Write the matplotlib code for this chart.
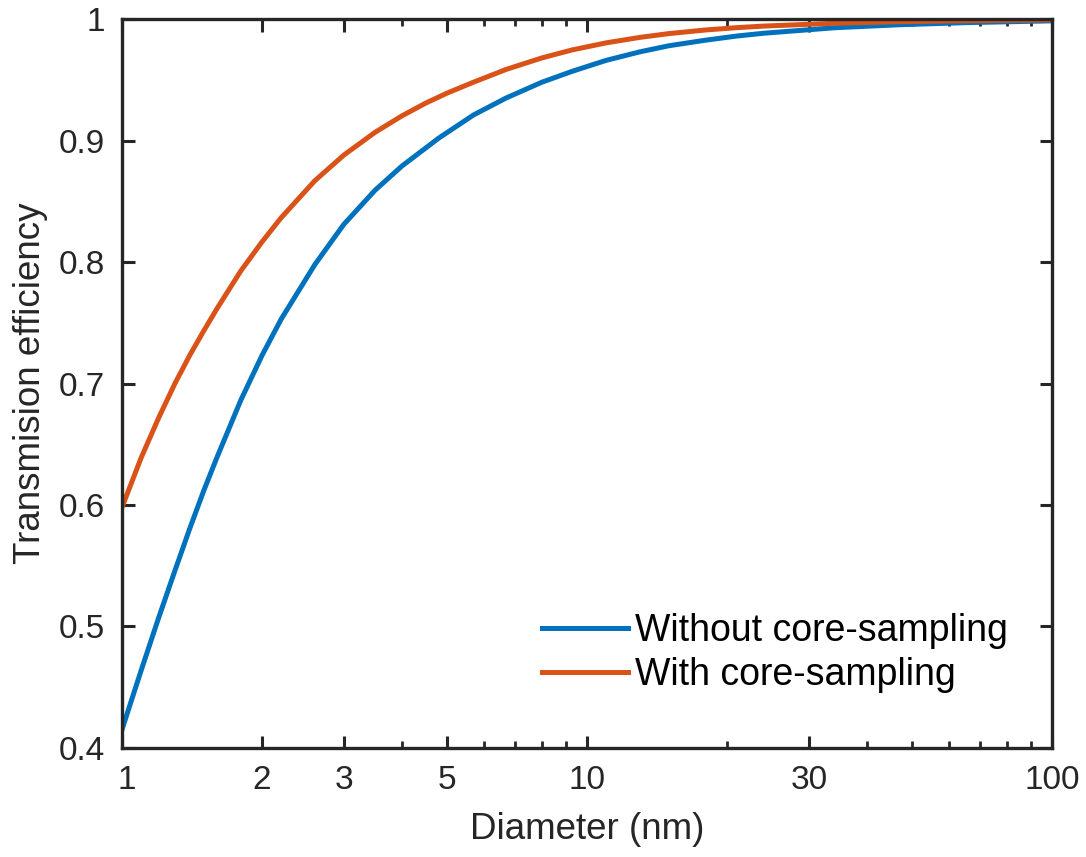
import matplotlib.pyplot as plt
import matplotlib.transforms as mtransforms
from matplotlib.ticker import FixedLocator, NullFormatter

plt.rcParams['font.family'] = ['Liberation Sans', 'DejaVu Sans']

# diameters (nm) and read-off transmission values
d_without = [1.0, 1.1, 1.2, 1.3, 1.4, 1.5, 1.6, 1.8, 2.0, 2.2, 2.6, 3.0, 3.5, 4.0, 4.8,
             5.7, 6.7, 8.0, 9.3, 11, 13, 15, 18, 21, 24, 34, 47, 65, 100]
eff_without = [0.415, 0.464, 0.5075, 0.546, 0.581, 0.612, 0.639, 0.686, 0.723, 0.753,
               0.798, 0.831, 0.859, 0.879, 0.902, 0.921, 0.935, 0.948, 0.957, 0.966,
               0.973, 0.978, 0.9826, 0.986, 0.9883, 0.9928, 0.9953, 0.997, 0.9985]

d_with = [1.0, 1.1, 1.2, 1.3, 1.4, 1.5, 1.6, 1.8, 2.0, 2.2, 2.6, 3.0, 3.5, 4.0, 4.5,
          5.0, 5.7, 6.7, 8.0, 9.3, 11, 13, 15, 18, 21, 24, 34, 47, 65, 100]
eff_with = [0.598, 0.639, 0.672, 0.700, 0.7235, 0.7435, 0.7615, 0.7925, 0.8165, 0.8365,
            0.867, 0.888, 0.9067, 0.9203, 0.9308, 0.939, 0.948, 0.9585, 0.968, 0.9746,
            0.9804, 0.9849, 0.988, 0.991, 0.9929, 0.9942, 0.9965, 0.9978, 0.9986, 0.9993]

labels = ['Without core-sampling', 'With core-sampling']
xticks = [1, 2, 3, 5, 10, 30, 100]
yticks = [0.4, 0.5, 0.6, 0.7, 0.8, 0.9, 1.0]
ytick_labels = ['0.4', '0.5', '0.6', '0.7', '0.8', '0.9', '1']

fig = plt.figure(figsize=(10.86, 8.57), dpi=100)
ax = fig.add_axes([0.1123, 0.1272, 0.8564, 0.8506])

ax.plot(d_without, eff_without, color='#0072BD', lw=3.6, label=labels[0])
ax.plot(d_with, eff_with, color='#D95319', lw=3.6, label=labels[1])

ax.set_xscale('log')
ax.set_xlim(1, 100)
ax.set_ylim(0.4, 1.0)

minor = [4, 6, 7, 8, 9, 20, 40, 50, 60, 70, 80, 90]
ax.xaxis.set_major_locator(FixedLocator(xticks))
ax.xaxis.set_minor_locator(FixedLocator(minor))
ax.set_xticklabels([str(t) for t in xticks])
ax.xaxis.set_minor_formatter(NullFormatter())
ax.set_yticks(yticks)
ax.set_yticklabels(ytick_labels)

ax.tick_params(which='both', direction='in', top=True, right=True,
               colors='#262626', labelcolor='#262626', labelsize=24)
ax.tick_params(which='major', length=9, width=2.2, pad=12)
ax.tick_params(which='minor', length=5, width=2.0)
for s in ax.spines.values():
    s.set_linewidth(2.4)
    s.set_color('#262626')

# the "1" label sits a little right of the axis edge in the original
first = ax.get_xticklabels()[0]
first.set_transform(first.get_transform() +
                    mtransforms.ScaledTranslation(5 / 100, 0, fig.dpi_scale_trans))

ax.set_xlabel('Diameter (nm)', fontsize=26.5, color='#262626', labelpad=12)
ax.set_ylabel('Transmision efficiency', fontsize=26.5, color='#262626', labelpad=8)

ax.legend(loc='upper left', bbox_to_anchor=(0.431, 0.211), frameon=False,
          fontsize=27, handlelength=2.3, handletextpad=0.2, borderpad=0,
          labelspacing=0.22)

fig.savefig('out.png', dpi=100)
